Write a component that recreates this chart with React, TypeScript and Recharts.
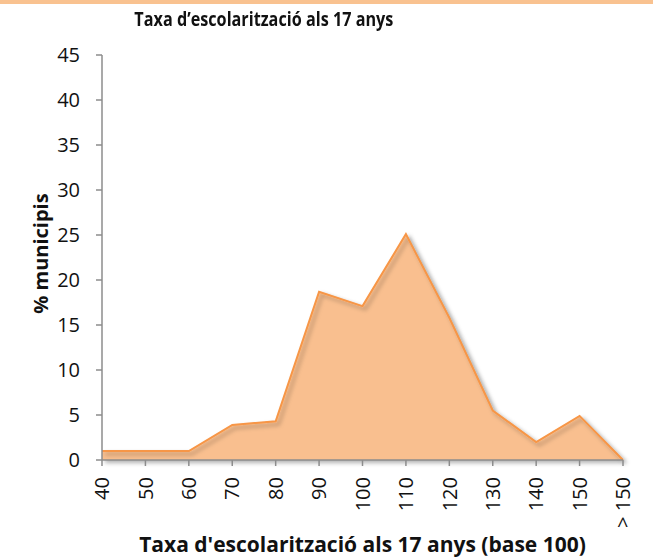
import { AreaChart, Area, XAxis, YAxis, Label } from 'recharts';

const categories = ['40', '50', '60', '70', '80', '90', '100', '110', '120', '130', '140', '150', '> 150'];
const municipis = [1.0, 1.0, 1.0, 3.9, 4.3, 18.7, 17.1, 25.1, 15.8, 5.5, 2.0, 4.9, 0];
const yTicks = [0, 5, 10, 15, 20, 25, 30, 35, 40, 45];

const data = categories.map((c, i) => ({ cat: c, value: municipis[i] }));

const FONT = '"Open Sans", "Noto Sans", sans-serif';
const AXIS = '#8c8c8c';

function XTick(props: any) {
  const { x, y, payload } = props;
  return (
    <text
      x={x}
      y={y}
      transform={`rotate(-90, ${x}, ${y})`}
      textAnchor="end"
      dy="0.36em"
      fontSize={20}
      fontFamily={FONT}
      fill="#111"
    >
      {payload.value}
    </text>
  );
}

function YTitle(props: any) {
  const { viewBox } = props;
  const x = 48;
  const y = viewBox.y + viewBox.height / 2 - 4;
  return (
    <text
      x={x}
      y={y}
      transform={`rotate(-90, ${x}, ${y})`}
      textAnchor="middle"
      fontSize={20}
      fontWeight={700}
      fontFamily={FONT}
      fill="#111"
    >
      % municipis
    </text>
  );
}

export default function App() {
  return (
    <div style={{ position: 'absolute', left: 0, top: 0, width: 653, height: 558, background: '#fff', fontFamily: FONT }}>
      <div style={{ position: 'absolute', left: 0, top: 0, width: 653, height: 4, background: '#f9c290' }} />
      <div
        style={{
          position: 'absolute', left: 0, top: 5, width: 528, textAlign: 'center',
          fontWeight: 700, fontSize: 20, color: '#111', whiteSpace: 'nowrap',
        }}
      >
        <span style={{ display: 'inline-block', transform: 'scaleX(0.81)', transformOrigin: 'center' }}>
          Taxa d’escolarització als 17 anys
        </span>
      </div>
      <AreaChart width={653} height={558} data={data} margin={{ top: 55, right: 30, left: 20, bottom: 0 }}>
        <defs>
          <filter id="lineShadow" x="-10%" y="-10%" width="130%" height="130%">
            <feDropShadow dx="3" dy="3" stdDeviation="2" floodColor="#000" floodOpacity="0.3" />
          </filter>
        </defs>
        <XAxis
          dataKey="cat"
          interval={0}
          height={98}
          tick={<XTick />}
          tickSize={6}
          tickMargin={11}
          axisLine={{ stroke: AXIS, strokeWidth: 1.5 }}
          tickLine={{ stroke: AXIS, strokeWidth: 1.5 }}
        >
          <Label
            value="Taxa d'escolarització als 17 anys (base 100)"
            position="insideBottom"
            offset={6}
            style={{ fontWeight: 700, fontSize: 21, fill: '#111', fontFamily: FONT }}
          />
        </XAxis>
        <YAxis
          domain={[0, 45]}
          ticks={yTicks}
          interval={0}
          width={82}
          tickSize={6}
          tickMargin={16}
          tick={{ fontSize: 20, fill: '#111', fontFamily: FONT }}
          axisLine={{ stroke: AXIS, strokeWidth: 1.5 }}
          tickLine={{ stroke: AXIS, strokeWidth: 1.5 }}
        >
          <Label content={<YTitle />} />
        </YAxis>
        <Area
          type="linear"
          dataKey="value"
          stroke="#f79646"
          strokeWidth={2}
          fill="#f9bf8f"
          fillOpacity={1}
          filter="url(#lineShadow)"
          isAnimationActive={false}
          dot={false}
          activeDot={false}
        />
      </AreaChart>
    </div>
  );
}
